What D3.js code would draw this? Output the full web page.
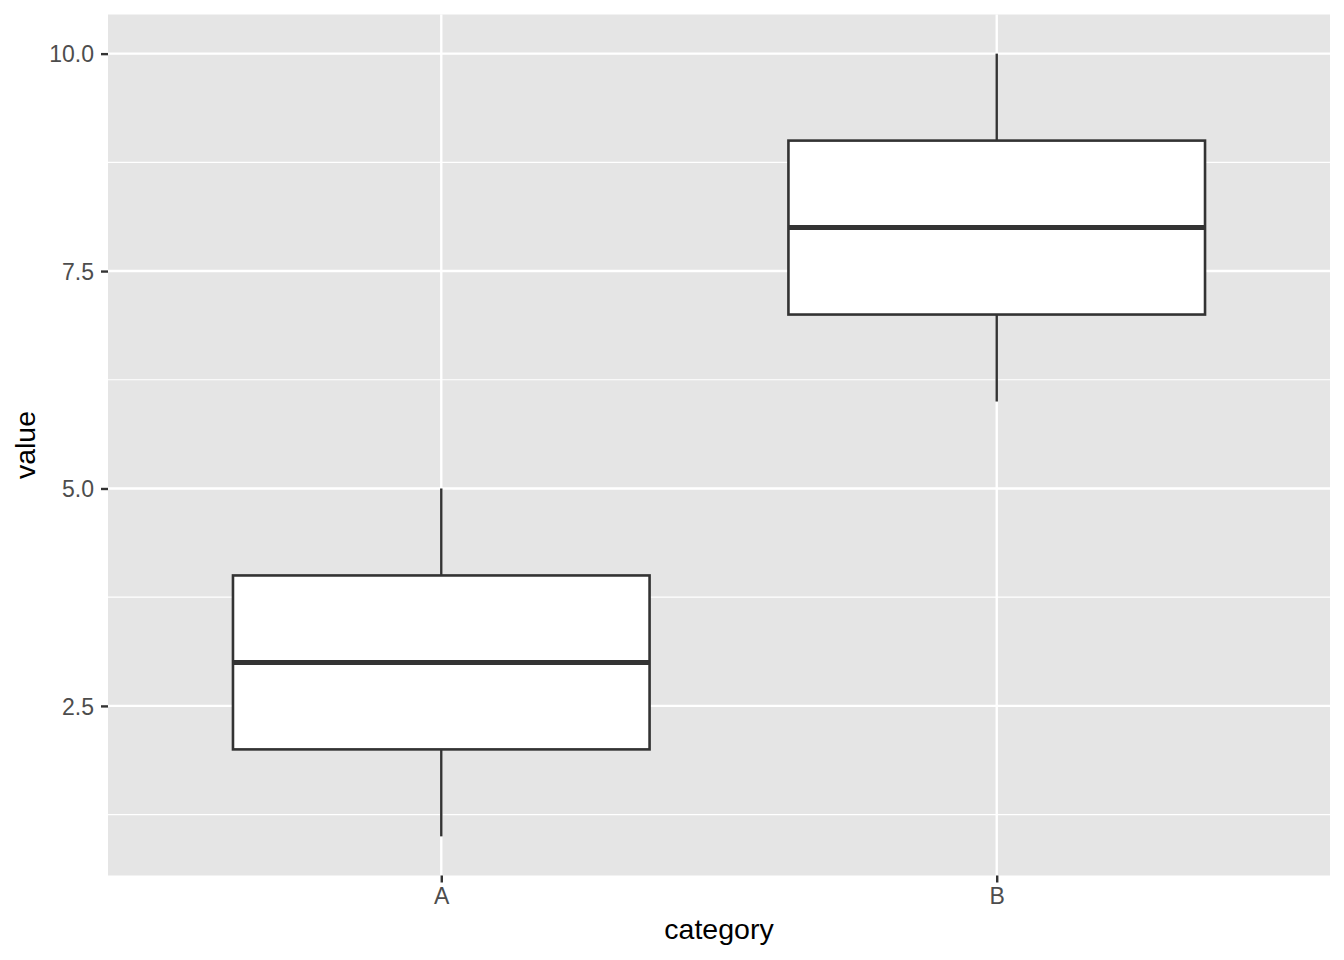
<!DOCTYPE html>
<html><head><meta charset="utf-8">
<script src="https://cdn.jsdelivr.net/npm/d3@7"></script>
<style>body{margin:0;background:#fff}svg{display:block}</style>
</head><body>
<svg id="c" width="1344" height="960"></svg>
<script>
const categories = ["A", "B"];
const minValues = [1, 6];
const q1Values = [2, 7];
const medianValues = [3, 8];
const q3Values = [4, 9];
const maxValues = [5, 10];
const yTicks = [2.5, 5.0, 7.5, 10.0];
const yMinorTicks = [1.25, 3.75, 6.25, 8.75];

(function(){
const pL = 108, pR = 1330, pT = 14.5, pB = 875.5;
const svg = d3.select("#c");
const font = "Liberation Sans, Arial, Helvetica, sans-serif";

const y = d3.scaleLinear().domain([0.55, 10.45]).range([pB, pT]);
const xc = d3.scaleLinear().domain([0.4, 2.6]).range([pL, pR]);
const xpos = c => xc(categories.indexOf(c) + 1);

svg.append("rect").attr("x", pL).attr("y", pT).attr("width", pR-pL).attr("height", pB-pT).attr("fill", "#E5E5E5");

const g = svg.append("g");
yMinorTicks.forEach(t => g.append("line").attr("x1", pL).attr("x2", pR).attr("y1", y(t)).attr("y2", y(t)).attr("stroke", "#fff").attr("stroke-width", 1.2));
yTicks.forEach(t => g.append("line").attr("x1", pL).attr("x2", pR).attr("y1", y(t)).attr("y2", y(t)).attr("stroke", "#fff").attr("stroke-width", 2.4));
categories.forEach(c => g.append("line").attr("x1", xpos(c)).attr("x2", xpos(c)).attr("y1", pT).attr("y2", pB).attr("stroke", "#fff").attr("stroke-width", 2.4));

const bw = (xc(1.375) - xc(0.625));
categories.forEach((c, i) => {
  const cx = xpos(c);
  g.append("line").attr("x1", cx).attr("x2", cx).attr("y1", y(maxValues[i])).attr("y2", y(q3Values[i])).attr("stroke", "#333").attr("stroke-width", 2.4);
  g.append("line").attr("x1", cx).attr("x2", cx).attr("y1", y(q1Values[i])).attr("y2", y(minValues[i])).attr("stroke", "#333").attr("stroke-width", 2.4);
  g.append("rect").attr("x", cx - bw/2).attr("y", y(q3Values[i])).attr("width", bw).attr("height", y(q1Values[i]) - y(q3Values[i]))
    .attr("fill", "#fff").attr("stroke", "#333").attr("stroke-width", 2.6);
  g.append("line").attr("x1", cx - bw/2).attr("x2", cx + bw/2).attr("y1", y(medianValues[i])).attr("y2", y(medianValues[i])).attr("stroke", "#333").attr("stroke-width", 5);
});

const ya = svg.append("g").attr("transform", `translate(${pL},0)`)
  .call(d3.axisLeft(y).tickValues(yTicks).tickSize(7).tickPadding(7).tickFormat(d3.format(".1f")));
ya.select(".domain").remove();
ya.selectAll("line").attr("stroke", "#333").attr("stroke-width", 2.4);
ya.selectAll("text").attr("fill", "#4D4D4D").style("font-family", font).style("font-size", "23px").attr("dy", "0.36em");

const xa = svg.append("g").attr("transform", `translate(0,${pB})`)
  .call(d3.axisBottom(xc).tickValues([1, 2]).tickSize(7).tickPadding(5.5).tickFormat(d => categories[d-1]));
xa.select(".domain").remove();
xa.selectAll("line").attr("stroke", "#333").attr("stroke-width", 2.4);
xa.selectAll("text").attr("fill", "#4D4D4D").style("font-family", font).style("font-size", "23px");

svg.append("text").attr("x", (pL+pR)/2).attr("y", 939).attr("text-anchor", "middle")
  .style("font-family", font).style("font-size", "28.5px").attr("fill", "#000").text("category");
svg.append("text").attr("transform", `translate(35,${(pT+pB)/2}) rotate(-90)`).attr("text-anchor", "middle")
  .style("font-family", font).style("font-size", "28.5px").attr("fill", "#000").text("value");
})();
</script>
</body></html>
